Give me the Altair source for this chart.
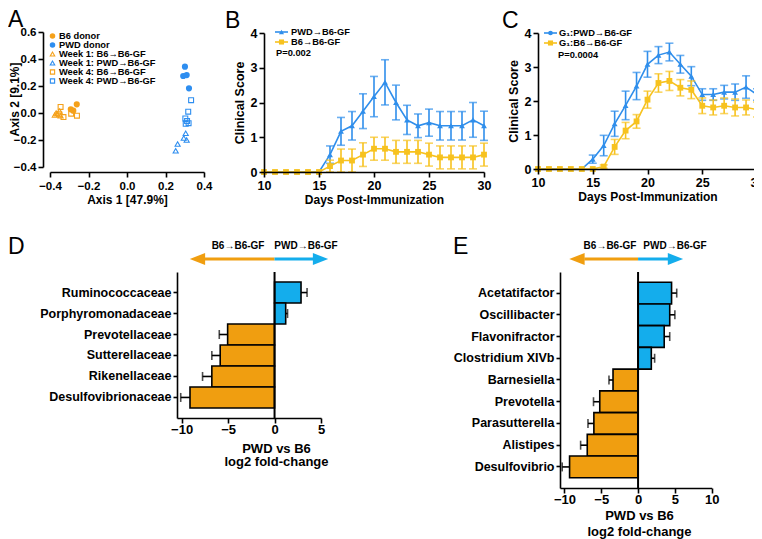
import altair as alt
import pandas as pd

# ---------------- data ----------------
# Panel A: PCoA coordinates
a_b6_donor_x = [-0.261, -0.292, -0.279]
a_b6_donor_y = [0.064, 0.027, 0.017]
a_pwd_donor_x = [0.301, 0.292, 0.310, 0.322]
a_pwd_donor_y = [0.343, 0.274, 0.281, 0.183]
a_w1_b6_x = [-0.375, -0.362, -0.350, -0.345, -0.368]
a_w1_b6_y = [-0.015, -0.005, 0.015, -0.020, 0.000]
a_w1_pwd_x = [0.253, 0.263, 0.295, 0.305, 0.310]
a_w1_pwd_y = [-0.280, -0.230, -0.185, -0.150, -0.200]
a_w4_b6_x = [-0.345, -0.330, -0.290, -0.260, -0.352]
a_w4_b6_y = [0.045, -0.030, -0.005, -0.020, -0.010]
a_w4_pwd_x = [0.333, 0.318, 0.303, 0.305, 0.320, 0.312]
a_w4_pwd_y = [0.095, 0.010, -0.040, -0.080, -0.075, -0.060]
a_legend = ["B6 donor", "PWD donor", "Week 1: B6→B6-GF", "Week 1: PWD→B6-GF",
            "Week 4: B6→B6-GF", "Week 4: PWD→B6-GF"]
a_xticks = [-0.4, -0.2, 0.0, 0.2, 0.4]
a_yticks = [-0.4, -0.2, 0.0, 0.2, 0.4, 0.6]

# Panels B and C: clinical scores (mean and SEM)
days = [10, 11, 12, 13, 14, 15, 16, 17, 18, 19, 20, 21, 22, 23, 24, 25, 26, 27, 28, 29, 30]
b_pwd_mean = [0, 0, 0, 0, 0, 0, 0.50, 1.17, 1.33, 1.75, 2.17, 2.58, 2.00, 1.50, 1.33, 1.42, 1.33, 1.33, 1.33, 1.50, 1.33]
b_pwd_err = [0, 0, 0, 0, 0, 0, 0.25, 0.40, 0.41, 0.50, 0.58, 0.65, 0.50, 0.42, 0.34, 0.39, 0.41, 0.41, 0.41, 0.50, 0.42]
b_b6_mean = [0, 0, 0, 0, 0, 0, 0.17, 0.33, 0.33, 0.50, 0.67, 0.67, 0.58, 0.58, 0.58, 0.50, 0.42, 0.42, 0.42, 0.42, 0.50]
b_b6_err = [0, 0, 0, 0, 0, 0, 0.17, 0.33, 0.33, 0.34, 0.33, 0.33, 0.33, 0.33, 0.33, 0.33, 0.33, 0.33, 0.33, 0.33, 0.33]
b_legend = ["PWD→B6-GF", "B6→B6-GF"]
b_pvalue = "P=0.002"

c_pwd_mean = [0, 0, 0, 0, 0, 0.29, 0.69, 1.33, 1.87, 2.44, 3.08, 3.35, 3.44, 3.08, 2.73, 2.19, 2.19, 2.26, 2.26, 2.41, 2.19]
c_pwd_err = [0, 0, 0, 0, 0, 0.12, 0.30, 0.37, 0.42, 0.40, 0.38, 0.25, 0.26, 0.26, 0.28, 0.17, 0.17, 0.20, 0.24, 0.33, 0.17]
c_b6_mean = [0, 0, 0, 0, 0, 0, 0.07, 0.65, 1.13, 1.40, 2.04, 2.53, 2.59, 2.39, 2.33, 1.86, 1.81, 1.86, 1.81, 1.81, 1.75]
c_b6_err = [0, 0, 0, 0, 0, 0, 0.05, 0.22, 0.24, 0.20, 0.25, 0.27, 0.28, 0.24, 0.26, 0.23, 0.22, 0.23, 0.25, 0.22, 0.22]
c_legend = ["G\u2081:PWD→B6-GF", "G\u2081:B6→B6-GF"]
c_pvalue = "P=0.0004"

# Panel D: family level log2 fold-change
d_taxa = ["Ruminococcaceae", "Porphyromonadaceae", "Prevotellaceae",
          "Sutterellaceae", "Rikenellaceae", "Desulfovibrionaceae"]
d_lfc = [2.85, 1.20, -5.05, -5.85, -6.75, -9.10]
d_err = [0.65, 0.20, 0.90, 0.90, 1.00, 1.00]

# Panel E: genus level log2 fold-change
e_taxa = ["Acetatifactor", "Oscillibacter", "Flavonifractor", "Clostridium XIVb",
          "Barnesiella", "Prevotella", "Parasutterella", "Alistipes", "Desulfovibrio"]
e_lfc = [4.55, 4.30, 3.55, 1.80, -3.40, -5.20, -6.00, -6.90, -9.30]
e_err = [0.70, 0.70, 0.75, 0.45, 0.55, 0.85, 0.80, 0.90, 1.00]

arrow_labels = ["B6→B6-GF", "PWD→B6-GF"]
fc_title = ["PWD vs B6", "log2 fold-change"]

# ---------------- styling ----------------
FONT = "Liberation Sans"
W, H = 746, 531
ORANGE_A = "#F5A11A"
BLUE_A = "#2E8EF0"
BLUE_L = "#2F8EEB"
YEL_L = "#F7C21F"
ORANGE_D = "#F09E10"
BLUE_D = "#14ADEC"


def P(v):
    """page pixel -> chart pixel (page has an 8px margin)"""
    return v - 8


def axis(**kw):
    base = dict(domainColor="black", domainWidth=1.6, tickColor="black", tickWidth=1.6,
                tickSize=4, labelColor="black", labelFont=FONT, labelFontWeight="bold",
                labelFontSize=12, titleFont=FONT, titleFontWeight="bold", titleFontSize=12,
                titleColor="black", grid=False, labelPadding=2, titlePadding=4,
                labelOverlap=False, labelFlush=False, zindex=1)
    base.update(kw)
    return alt.Axis(**base)


one = pd.DataFrame({"k": [0]})


def text_at(txt, x, y, size=10, weight="bold", align="left", baseline="middle", angle=0):
    return alt.Chart(one).mark_text(text=txt, font=FONT, fontSize=size, fontWeight=weight,
                                    align=align, baseline=baseline, color="black",
                                    angle=angle).encode(
        x=alt.value(P(x)), y=alt.value(P(y)))


layers = []

# ---------------- Panel A ----------------
A_X = alt.Scale(domain=[-0.4, 0.4], range=[P(50), P(204)], nice=False, zero=False)
A_Y = alt.Scale(domain=[-0.4, 0.6], range=[P(167), P(32)], nice=False, zero=False)
ax_x = axis(orient="bottom", offset=P(172) - H, values=a_xticks, format=".1f",
            title="Axis 1 [47.9%]", labelFontSize=11.5, tickSize=5, labelPadding=3, titlePadding=3)
ax_y = axis(orient="left", offset=-P(43), values=a_yticks, format=".1f",
            title=None, labelFontSize=11.5, tickSize=5)


def pts(xs, ys, sx, sy, shape, color, filled, size, xaxis=None, yaxis=None):
    df = pd.DataFrame({"x": xs, "y": ys})
    return alt.Chart(df).mark_point(shape=shape, filled=filled, color=color, size=size,
                                    strokeWidth=1.1, opacity=1).encode(
        x=alt.X("x:Q", scale=sx, axis=xaxis), y=alt.Y("y:Q", scale=sy, axis=yaxis))


a_styles = [
    (a_w1_b6_x, a_w1_b6_y, "triangle-up", ORANGE_A, False, 26),
    (a_w4_b6_x, a_w4_b6_y, "square", ORANGE_A, False, 24),
    (a_w1_pwd_x, a_w1_pwd_y, "triangle-up", BLUE_A, False, 26),
    (a_w4_pwd_x, a_w4_pwd_y, "square", BLUE_A, False, 24),
    (a_b6_donor_x, a_b6_donor_y, "circle", ORANGE_A, True, 38),
    (a_pwd_donor_x, a_pwd_donor_y, "circle", BLUE_A, True, 38),
]
for i, (xs, ys, shp, col, fil, sz) in enumerate(a_styles):
    xa = ax_x if i == 0 else None
    ya = ax_y if i == len(a_styles) - 1 else None
    layers.append(pts(xs, ys, A_X, A_Y, shp, col, fil, sz, xa, ya))
# rotated y title of panel A, kept inside the page
layers.append(text_at("Axis 2 [9.1%]", 14.5, 99.5, size=12, align="center", angle=270))

leg_style = [("circle", ORANGE_A, True, 30), ("circle", BLUE_A, True, 30),
             ("triangle-up", ORANGE_A, False, 20), ("triangle-up", BLUE_A, False, 20),
             ("square", ORANGE_A, False, 18), ("square", BLUE_A, False, 18)]
leg_y = [36, 45, 54, 63, 72, 81]
for lab, (shp, col, fil, sz), yy in zip(a_legend, leg_style, leg_y):
    layers.append(alt.Chart(one).mark_point(shape=shp, filled=fil, color=col, size=sz,
                                            strokeWidth=1.1, opacity=1).encode(
        x=alt.value(P(52.5)), y=alt.value(P(yy))))
    layers.append(text_at(lab, 59, yy, size=9.3))


# ---------------- Panels B and C ----------------
def series(mean, err, sx, sy, color, shape, size, xaxis=None, yaxis=None):
    df = pd.DataFrame({"day": days, "m": mean, "e": err})
    df["lo"] = df["m"] - df["e"]
    df["hi"] = df["m"] + df["e"]
    base = alt.Chart(df)
    eb = base.transform_filter("datum.e > 0")
    X = alt.X("day:Q", scale=sx, axis=None)
    out = [
        eb.mark_rule(color=color, strokeWidth=1.6).encode(
            x=X, y=alt.Y("lo:Q", scale=sy, axis=None), y2="hi:Q"),
        eb.mark_tick(orient="horizontal", size=8, thickness=1.6, color=color).encode(
            x=X, y=alt.Y("hi:Q", scale=sy, axis=None)),
        eb.mark_tick(orient="horizontal", size=8, thickness=1.6, color=color).encode(
            x=X, y=alt.Y("lo:Q", scale=sy, axis=None)),
        base.mark_line(color=color, strokeWidth=1.6).encode(
            x=alt.X("day:Q", scale=sx, axis=xaxis), y=alt.Y("m:Q", scale=sy, axis=yaxis)),
        base.mark_point(shape=shape, filled=True, color=color, size=size, opacity=1).encode(
            x=X, y=alt.Y("m:Q", scale=sy, axis=None)),
    ]
    return out


def clin_axes(x0, y0):
    xa = axis(orient="bottom", offset=P(y0) - H, values=[10, 15, 20, 25, 30],
              title="Days Post-Immunization", labelFontSize=12.5, tickSize=5, labelPadding=2,
              titlePadding=3)
    ya = axis(orient="left", offset=-P(x0), values=[0, 1, 2, 3, 4], title="Clinical Score",
              labelFontSize=12.5, tickSize=5, titleFontSize=12.5, titlePadding=4)
    return xa, ya


B_X = alt.Scale(domain=[10, 30], range=[P(264), P(484)], nice=False, zero=False)
B_Y = alt.Scale(domain=[0, 4], range=[P(172), P(33)], nice=False)
bxa, bya = clin_axes(264, 172)
layers += series(b_pwd_mean, b_pwd_err, B_X, B_Y, BLUE_L, "triangle-up", 34, bxa, bya)
layers += series(b_b6_mean, b_b6_err, B_X, B_Y, YEL_L, "square", 34)

C_X = alt.Scale(domain=[10, 30], range=[P(538), P(757)], nice=False, zero=False)
C_Y = alt.Scale(domain=[0, 4], range=[P(169), P(33)], nice=False)
cxa, cya = clin_axes(538, 169)
layers += series(c_pwd_mean, c_pwd_err, C_X, C_Y, BLUE_L, "triangle-up", 34, cxa, cya)
layers += series(c_b6_mean, c_b6_err, C_X, C_Y, YEL_L, "square", 34)


def line_legend(x1, x2, yy, color, shape, size):
    return [
        alt.Chart(one).mark_rule(color=color, strokeWidth=1.6).encode(
            x=alt.value(P(x1)), x2=alt.value(P(x2)), y=alt.value(P(yy))),
        alt.Chart(one).mark_point(shape=shape, filled=True, color=color, size=size, opacity=1).encode(
            x=alt.value(P((x1 + x2) / 2)), y=alt.value(P(yy))),
    ]


layers += line_legend(275, 288, 32, BLUE_L, "triangle-up", 26)
layers += line_legend(275, 288, 42, YEL_L, "square", 26)
layers.append(text_at(b_legend[0], 291, 32, size=9.3))
layers.append(text_at(b_legend[1], 291, 42, size=9.3))
layers.append(text_at(b_pvalue, 276, 53, size=9.3))

layers += line_legend(544, 557, 33, BLUE_L, "circle", 22)
layers += line_legend(544, 557, 43, YEL_L, "square", 26)
layers.append(text_at(c_legend[0], 559, 33, size=9.3))
layers.append(text_at(c_legend[1], 559, 43, size=9.3))
layers.append(text_at(c_pvalue, 558, 55, size=9.3))


# ---------------- Panels D and E ----------------
def fc_panel(taxa, lfc, err, sx, sy, x_axis_x0, y_axis_y, y_top, vals, title_x, title_dy, lh,
             arrow):
    df = pd.DataFrame({"taxon": taxa, "lfc": lfc, "err": err})
    df["zero"] = 0.0
    df["tip"] = [v + e if v > 0 else v - e for v, e in zip(lfc, err)]
    base = alt.Chart(df)
    xa = axis(orient="bottom", offset=P(y_axis_y) - H, values=vals, format="d",
              labelFontSize=13, tickSize=5, labelPadding=0, title=fc_title,
              titleFontSize=13, titleX=P(title_x), titleY=title_dy, titleBaseline="middle",
              titleAlign="center", titleAnchor="start", titleLineHeight=lh, titleAngle=0)
    ya = axis(orient="left", offset=-P(x_axis_x0), title=None, labelFontSize=12.5,
              tickSize=4, labelPadding=2)
    Y = alt.Y("taxon:N", scale=sy, axis=None)
    out = [
        base.mark_bar(stroke="black", strokeWidth=1.6).encode(
            x=alt.X("lfc:Q", scale=sx, axis=xa), x2="zero:Q",
            y=alt.Y("taxon:N", scale=sy, axis=ya),
            fill=alt.when(alt.datum.lfc > 0).then(alt.value(BLUE_D)).otherwise(alt.value(ORANGE_D))),
        base.mark_rule(color="black", strokeWidth=1.6).encode(
            x=alt.X("lfc:Q", scale=sx, axis=None), x2="tip:Q", y=Y),
        base.mark_tick(orient="vertical", size=9, thickness=1.6, color="black").encode(
            x=alt.X("tip:Q", scale=sx, axis=None), y=Y),
        alt.Chart(pd.DataFrame({"z": [0.0]})).mark_rule(color="black", strokeWidth=2).encode(
            x=alt.X("z:Q", scale=sx, axis=None), y=alt.value(P(y_top)), y2=alt.value(P(y_axis_y))),
    ]
    # direction arrow above the panel
    l_tip, l_base, r_base, r_tip, lab_l, lab_r = arrow
    ay = 259
    out += [
        alt.Chart(pd.DataFrame({"a": [l_base], "b": [0.0]})).mark_rule(
            color=ORANGE_D, strokeWidth=3).encode(
            x=alt.X("a:Q", scale=sx, axis=None), x2="b:Q", y=alt.value(P(ay))),
        alt.Chart(pd.DataFrame({"a": [0.0], "b": [r_base]})).mark_rule(
            color=BLUE_D, strokeWidth=3).encode(
            x=alt.X("a:Q", scale=sx, axis=None), x2="b:Q", y=alt.value(P(ay))),
        alt.Chart(pd.DataFrame({"a": [l_tip]})).mark_point(
            shape="M1,-0.78L-1,0L1,0.78Z", filled=True, color=ORANGE_D, size=235, opacity=1).encode(
            x=alt.X("a:Q", scale=sx, axis=None), y=alt.value(P(ay))),
        alt.Chart(pd.DataFrame({"a": [r_tip]})).mark_point(
            shape="M-1,-0.78L1,0L-1,0.78Z", filled=True, color=BLUE_D, size=235, opacity=1).encode(
            x=alt.X("a:Q", scale=sx, axis=None), y=alt.value(P(ay))),
        alt.Chart(pd.DataFrame({"a": [lab_l, lab_r], "t": arrow_labels})).mark_text(
            font=FONT, fontSize=10, fontWeight="bold", align="center", baseline="middle",
            color="black").encode(
            x=alt.X("a:Q", scale=sx, axis=None), y=alt.value(P(246)), text="t:N"),
    ]
    return out


D_X = alt.Scale(domain=[-10.5, 5], range=[P(177), P(321)], nice=False, zero=False)
D_Y = alt.Scale(domain=d_taxa, range=[P(272), P(418)], paddingInner=0, paddingOuter=0.48)
layers += fc_panel(d_taxa, d_lfc, d_err, D_X, D_Y, 177, 418, 272, [-10, -5, 0, 5], 276, 30, 13.5,
                   (-8.3, -7.6, 4.2, 4.95, -3.93, 3.39))

E_X = alt.Scale(domain=[-10.6, 10], range=[P(560), P(711.7)], nice=False, zero=False)
E_Y = alt.Scale(domain=e_taxa, range=[P(272), P(488)], paddingInner=0, paddingOuter=0.47)
layers += fc_panel(e_taxa, e_lfc, e_err, E_X, E_Y, 560, 488, 272, [-10, -5, 0, 5, 10], 639, 27, 16,
                   (-8.3, -7.3, 4.1, 5.08, -3.81, 5.02))

# ---------------- panel letters ----------------
for letter, lx, ly in [("A", 8, 27), ("B", 225, 28), ("C", 502, 28), ("D", 8, 254), ("E", 453, 254)]:
    layers.append(text_at(letter, lx, ly, size=23, weight="normal", baseline="alphabetic"))

chart = alt.layer(*layers).resolve_scale(
    x="independent", y="independent"
).resolve_axis(
    x="independent", y="independent"
).properties(
    width=W, height=H, autosize=alt.AutoSizeParams(type="none"), padding=0
).configure_view(stroke=None)

chart.save("out.html", embed_options={"renderer": "svg", "actions": False})
